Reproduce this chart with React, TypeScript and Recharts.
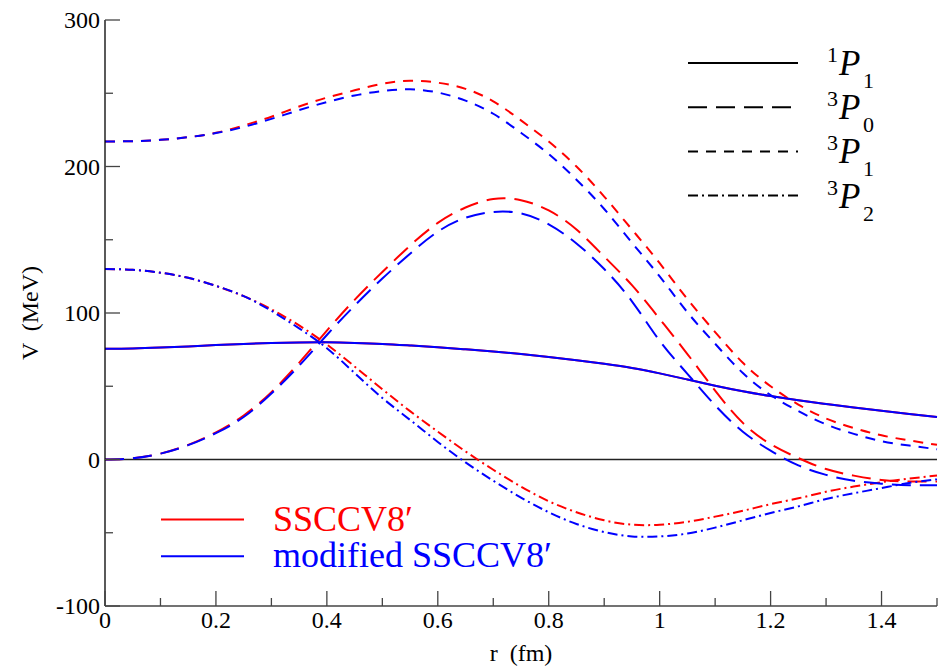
import React from "react";
import { LineChart, Line, XAxis, YAxis, ReferenceLine } from "recharts";

// r (fm), step 0.05
const rValues = [
  0, 0.05, 0.1, 0.15, 0.2, 0.25, 0.3, 0.35, 0.4, 0.45, 0.5, 0.55, 0.6, 0.65, 0.7, 0.75, 0.8, 0.85, 0.9, 0.95,
  1.0, 1.05, 1.1, 1.15, 1.2, 1.25, 1.3, 1.35, 1.4, 1.45, 1.5,
];

// SSCCV8' (red)
const p1Red = [
  75.6, 75.8, 76.4, 77.2, 78.1, 78.9, 79.5, 79.9, 80, 79.6, 78.9, 77.8, 76.6, 75.2, 73.7, 72, 70, 67.8, 65.3, 62.5,
  58.8, 54.6, 50.4, 46.6, 43.3, 40.4, 37.9, 35.5, 33.2, 31, 29,
];
const p0Red = [
  0, 0.8, 4, 10, 18.5, 30, 46, 66, 88, 109, 128, 146, 161.5, 172, 177.8, 177, 170, 157, 138.5, 119,
  96, 72, 47, 25, 10.5, 1, -6.5, -11, -14, -15, -15,
];
const p31Red = [
  217, 217.3, 218.2, 220, 223, 228, 234, 241, 247, 252, 256.5, 258.6, 257.2, 253, 244.5, 231.5, 217, 200, 179.5, 157,
  134, 109.5, 87, 66, 50, 37.5, 28, 21.5, 16.5, 13, 10,
];
const p2Red = [
  130, 129.5, 127.5, 124, 118.5, 111.5, 102.5, 91.5, 78.5, 63.5, 48, 33, 19, 5.5, -7, -18.5, -28.5, -36, -41.5, -44.5,
  -44.5, -42.5, -39, -35, -30.5, -26.5, -22, -18.5, -15.5, -13, -11,
];

// modified SSCCV8' (blue)
const p1Blue = [
  75.6, 75.8, 76.4, 77.2, 78.1, 78.9, 79.5, 79.9, 80, 79.6, 78.9, 77.8, 76.6, 75.2, 73.7, 72, 70, 67.8, 65.3, 62.5,
  58.8, 54.6, 50.4, 46.6, 43.3, 40.4, 37.9, 35.5, 33.2, 31, 29,
];
const p0Blue = [
  0, 0.8, 4, 9.8, 18, 29, 45, 64, 85, 105, 123.5, 140.5, 155.5, 165, 169, 168, 160.5, 147.5, 130, 108,
  81, 58.5, 37, 19, 6, -4, -10.5, -14.5, -16.5, -17.5, -17.5,
];
const p31Blue = [
  217, 217.3, 218.2, 220, 222.8, 227, 232.5, 238.5, 244, 248.5, 251.5, 252.7, 250.5, 245, 236, 223, 208.5, 191, 171, 148,
  125, 100.5, 79, 59, 44, 33, 24, 17.5, 12.5, 9.5, 7,
];
const p2Blue = [
  130, 129.5, 127.5, 124, 118.5, 111.5, 101.5, 89.5, 76, 59, 42, 27, 12, -2, -14.5, -26, -36, -44, -49.5, -52.5,
  -52.5, -50.5, -46.5, -41.5, -36.5, -32, -27, -23, -19.5, -16, -13.5,
];

const xTicks = [0, 0.1, 0.2, 0.3, 0.4, 0.5, 0.6, 0.7, 0.8, 0.9, 1, 1.1, 1.2, 1.3, 1.4, 1.5];
const yTicks = [-100, -50, 0, 50, 100, 150, 200, 250, 300];

const waveLabels = [
  { sup: "1", sub: "1", dash: undefined },
  { sup: "3", sub: "0", dash: "19 9" },
  { sup: "3", sub: "1", dash: "10 8" },
  { sup: "3", sub: "2", dash: "10 4 2 4" },
];
const modelLabels = [
  { name: "SSCCV8\u2032", color: "#ff0000" },
  { name: "modified SSCCV8\u2032", color: "#0000ff" },
];

const rows = rValues.map((r, i) => ({
  r,
  p1Red: p1Red[i],
  p0Red: p0Red[i],
  p31Red: p31Red[i],
  p2Red: p2Red[i],
  p1Blue: p1Blue[i],
  p0Blue: p0Blue[i],
  p31Blue: p31Blue[i],
  p2Blue: p2Blue[i],
}));

const FONT = "'Liberation Serif', 'DejaVu Serif', serif";
const serif = { fontFamily: FONT };
const AXIS = "#444";

function isMajorX(v: number) {
  return Math.round(v * 10) % 2 === 0;
}

function BottomTick({ x, y, payload }: any) {
  const v = payload.value;
  const major = isMajorX(v);
  return (
    <g>
      <line x1={x} x2={x} y1={y} y2={y - (major ? 15 : 8)} stroke={AXIS} strokeWidth={1.3} />
      {major && v < 1.5 && (
        <text x={x} y={y + 22} textAnchor="middle" style={serif} fontSize={24} fill="#000">
          {String(v)}
        </text>
      )}
    </g>
  );
}

function TopTick({ x, y, payload }: any) {
  const major = isMajorX(payload.value);
  return <line x1={x} x2={x} y1={y} y2={y + (major ? 15 : 8)} stroke={AXIS} strokeWidth={1.3} />;
}

function LeftTick({ x, y, payload }: any) {
  const v = payload.value;
  const major = v % 100 === 0;
  return (
    <g>
      <line x1={x} x2={x + (major ? 15 : 8)} y1={y} y2={y} stroke={AXIS} strokeWidth={1.3} />
      {major && (
        <text x={x - 5} y={y + 8} textAnchor="end" style={serif} fontSize={24} fill="#000">
          {String(v)}
        </text>
      )}
    </g>
  );
}

function RightTick({ x, y, payload }: any) {
  const major = payload.value % 100 === 0;
  return <line x1={x} x2={x - (major ? 15 : 8)} y1={y} y2={y} stroke={AXIS} strokeWidth={1.3} />;
}

export default function App() {
  const lineProps = { type: "natural" as const, dot: false, isAnimationActive: false, strokeWidth: 2 };
  return (
    <div style={{ position: "absolute", left: 0, top: 0, width: 939, height: 667, background: "#fff", ...serif }}>
      <LineChart width={939} height={667} data={rows} margin={{ top: 20, right: 2, bottom: 0, left: 0 }}>
        <XAxis
          dataKey="r"
          type="number"
          domain={[0, 1.5]}
          ticks={xTicks}
          interval={0}
          height={61}
          tickSize={0}
          tickMargin={0}
          tickLine={false}
          axisLine={{ stroke: AXIS, strokeWidth: 1.3 }}
          tick={<BottomTick />}
        />
        <XAxis
          xAxisId="top"
          orientation="top"
          dataKey="r"
          type="number"
          domain={[0, 1.5]}
          ticks={xTicks}
          interval={0}
          height={0}
          tickSize={0}
          tickMargin={0}
          tickLine={false}
          axisLine={{ stroke: AXIS, strokeWidth: 1.3 }}
          tick={<TopTick />}
        />
        <YAxis
          type="number"
          domain={[-100, 300]}
          ticks={yTicks}
          interval={0}
          width={105}
          tickSize={0}
          tickMargin={0}
          tickLine={false}
          allowDataOverflow
          axisLine={{ stroke: "#000", strokeWidth: 1.3 }}
          tick={<LeftTick />}
        />
        <YAxis
          yAxisId="right"
          orientation="right"
          type="number"
          domain={[-100, 300]}
          ticks={yTicks}
          interval={0}
          width={0}
          tickSize={0}
          tickMargin={0}
          tickLine={false}
          allowDataOverflow
          axisLine={{ stroke: AXIS, strokeWidth: 1.3 }}
          tick={<RightTick />}
        />
        <ReferenceLine y={0} stroke="#222" strokeWidth={1.3} />
        <Line {...lineProps} dataKey="p1Red" stroke="#ff0000" />
        <Line {...lineProps} dataKey="p0Red" stroke="#ff0000" strokeDasharray="19 9" />
        <Line {...lineProps} dataKey="p31Red" stroke="#ff0000" strokeDasharray="10 8" />
        <Line {...lineProps} dataKey="p2Red" stroke="#ff0000" strokeDasharray="10 4 2 4" />
        <Line {...lineProps} dataKey="p1Blue" stroke="#0000ff" />
        <Line {...lineProps} dataKey="p0Blue" stroke="#0000ff" strokeDasharray="19 9" />
        <Line {...lineProps} dataKey="p31Blue" stroke="#0000ff" strokeDasharray="10 8" />
        <Line {...lineProps} dataKey="p2Blue" stroke="#0000ff" strokeDasharray="10 4 2 4" />
      </LineChart>
      <svg
        width={939}
        height={667}
        style={{ position: "absolute", left: 0, top: 0, pointerEvents: "none", ...serif }}
      >
        <text x={521} y={661} textAnchor="middle" fontSize={24} style={{ ...serif, whiteSpace: "pre" }}>
          {"r  (fm)"}
        </text>
        <text
          x={38}
          y={313}
          textAnchor="middle"
          fontSize={24}
          transform="rotate(-90 38 313)"
          style={{ ...serif, whiteSpace: "pre" }}
        >
          {"V  (MeV)"}
        </text>
        {waveLabels.map((w, i) => {
          const ly = 63 + 44.2 * i;
          return (
            <g key={i}>
              <line x1={688} x2={798} y1={ly} y2={ly} stroke="#000" strokeWidth={2} strokeDasharray={w.dash} />
              <text x={827} y={ly - 1} fontSize={22} style={serif}>
                {w.sup}
              </text>
              <text x={839} y={ly + 12} fontSize={35} fontStyle="italic" style={serif}>
                P
              </text>
              <text x={863} y={ly + 25} fontSize={22} style={serif}>
                {w.sub}
              </text>
            </g>
          );
        })}
        {modelLabels.map((m, i) => {
          const ly = 519.5 + 36.7 * i;
          return (
            <g key={m.name}>
              <line x1={161} x2={244} y1={ly} y2={ly} stroke={m.color} strokeWidth={2} />
              <text x={273} y={ly + 11} fontSize={36} fill={m.color} style={serif}>
                {m.name}
              </text>
            </g>
          );
        })}
      </svg>
    </div>
  );
}
